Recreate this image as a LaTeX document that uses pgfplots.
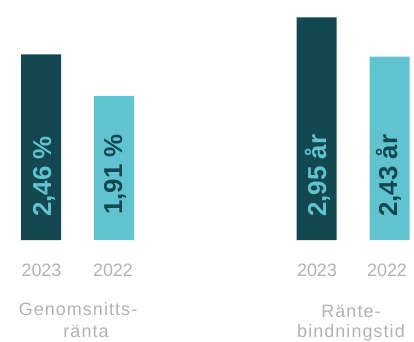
\documentclass[border=0pt]{standalone}
\usepackage{pgfplots}
\pgfplotsset{compat=1.18}
\usepackage{fontspec}
\setmainfont{Liberation Sans}
\newfontfamily\catfont[LetterSpace=6]{Liberation Sans}
\definecolor{dark}{RGB}{19,72,80}
\definecolor{light}{RGB}{98,195,208}
\definecolor{lbl}{RGB}{178,178,178}
\begin{document}
\begin{tikzpicture}
\begin{axis}[
 at={(0,0)}, anchor=south west,
 scale only axis, width=414bp, height=342bp,
 xmin=0, xmax=414, ymin=-1.351, ymax=3.179,
 axis lines=none,
 ybar, bar width=40, bar shift=0pt,
 clip=false,
]
% 2023
\addplot[fill=dark, draw=none] coordinates {(41,2.46) (316.5,2.95)};
% 2022
\addplot[fill=light, draw=none] coordinates {(114,1.91) (389.5,2.43)};
% value labels
\node[rotate=90, anchor=base west, text=light, inner sep=0pt, font=\bfseries\fontsize{26}{26}\selectfont] at (axis cs:51,0.305) {2,46 \%};
\node[rotate=90, anchor=base west, text=dark, inner sep=0pt, font=\bfseries\fontsize{26}{26}\selectfont] at (axis cs:122,0.33) {1,91 \%};
\node[rotate=90, anchor=base west, text=light, inner sep=0pt, font=\bfseries\fontsize{26}{26}\selectfont] at (axis cs:326,0.305) {2,95 år};
\node[rotate=90, anchor=base west, text=dark, inner sep=0pt, font=\bfseries\fontsize{26}{26}\selectfont] at (axis cs:397,0.305) {2,43 år};
% year labels
\foreach \xx/\yy in {41.5/2023, 113/2022, 317/2023, 387/2022}{
  \edef\tmp{\noexpand\node[anchor=base, text=lbl, inner sep=0pt, font=\noexpand\fontsize{18}{18}\noexpand\selectfont] at (axis cs:\xx,-0.4768) {\yy};}
  \tmp
}
% category labels
\node[anchor=base, text=lbl, inner sep=0pt, font=\catfont\fontsize{18}{18}\selectfont] at (axis cs:78,-0.995) {Genomsnitts-};
\node[anchor=base, text=lbl, inner sep=0pt, font=\catfont\fontsize{18}{18}\selectfont] at (axis cs:86,-1.29) {ränta};
\node[anchor=base, text=lbl, inner sep=0pt, font=\catfont\fontsize{18}{18}\selectfont] at (axis cs:351,-1.03) {Ränte-};
\node[anchor=base, text=lbl, inner sep=0pt, font=\catfont\fontsize{18}{18}\selectfont] at (axis cs:351,-1.29) {bindningstid};
\end{axis}
\pgfresetboundingbox
\path[use as bounding box] (0,0) rectangle (414bp,342bp);
\end{tikzpicture}
\end{document}
